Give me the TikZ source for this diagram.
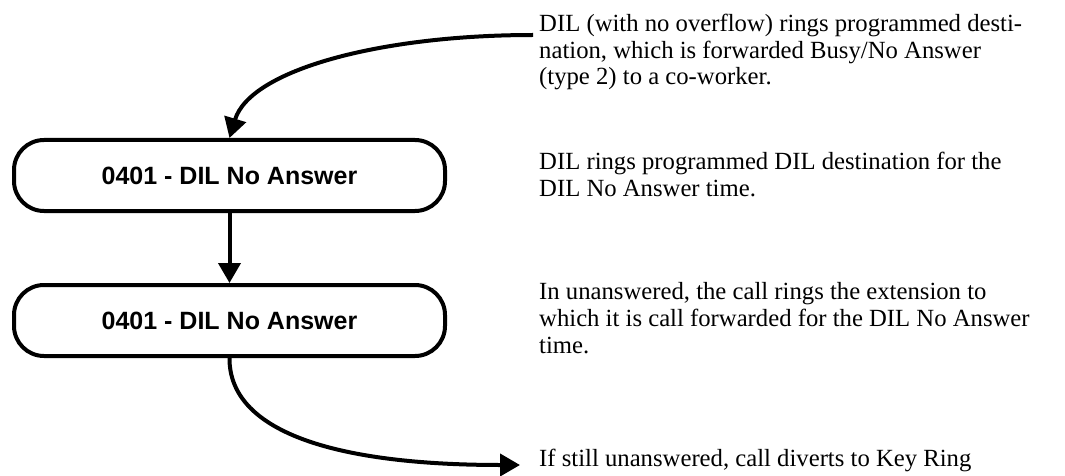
\documentclass[tikz,border=0pt]{standalone}
\usepackage{fontspec}
\setmainfont{Liberation Serif}
\setsansfont{Liberation Sans}
\usetikzlibrary{arrows.meta}
\begin{document}
\begin{tikzpicture}[x=1pt,y=-1pt,
  flowbox/.style={draw, line width=4pt, rounded corners=30pt, minimum width=431pt, minimum height=71pt, inner sep=0pt, font=\sffamily\bfseries\fontsize{25}{30}\selectfont},
  conn/.style={line width=4pt, -{Triangle[length=20pt,width=22pt]}},
  desc/.style={anchor=base west, inner sep=0pt, align=left, font=\fontsize{24.7}{26.6}\selectfont}]
\fill[white] (0,0) rectangle (1065,476);
\useasboundingbox (0,0) rectangle (1065,476);
\node[flowbox] (b1) at (229.5,175.5) {0401 - DIL No Answer};
\node[flowbox] (b2) at (229.5,320.5) {0401 - DIL No Answer};
\coordinate (s) at (533,35);
\coordinate (e) at (520,465);
\draw[conn] (s) .. controls (380,35) and (250,70) .. (b1.north);
\draw[conn] (b1.south) -- (b2.north);
\draw[conn] (b2.south) .. controls (229,430) and (330,465) .. (e);
% anchor base = baseline of the last line
\node[desc] (t1) at (539,85) {DIL (with no overflow) rings programmed desti-\\nation, which is forwarded Busy/No Answer\\(type 2) to a co-worker.};
\node[desc] (t2) at (539,196) {DIL rings programmed DIL destination for the\\DIL No Answer time.};
\node[desc] (t3) at (539,353) {In unanswered, the call rings the extension to\\which it is call forwarded for the DIL No Answer\\time.};
\node[desc] (t4) at (539,466) {If still unanswered, call diverts to Key Ring};
\end{tikzpicture}
\end{document}
